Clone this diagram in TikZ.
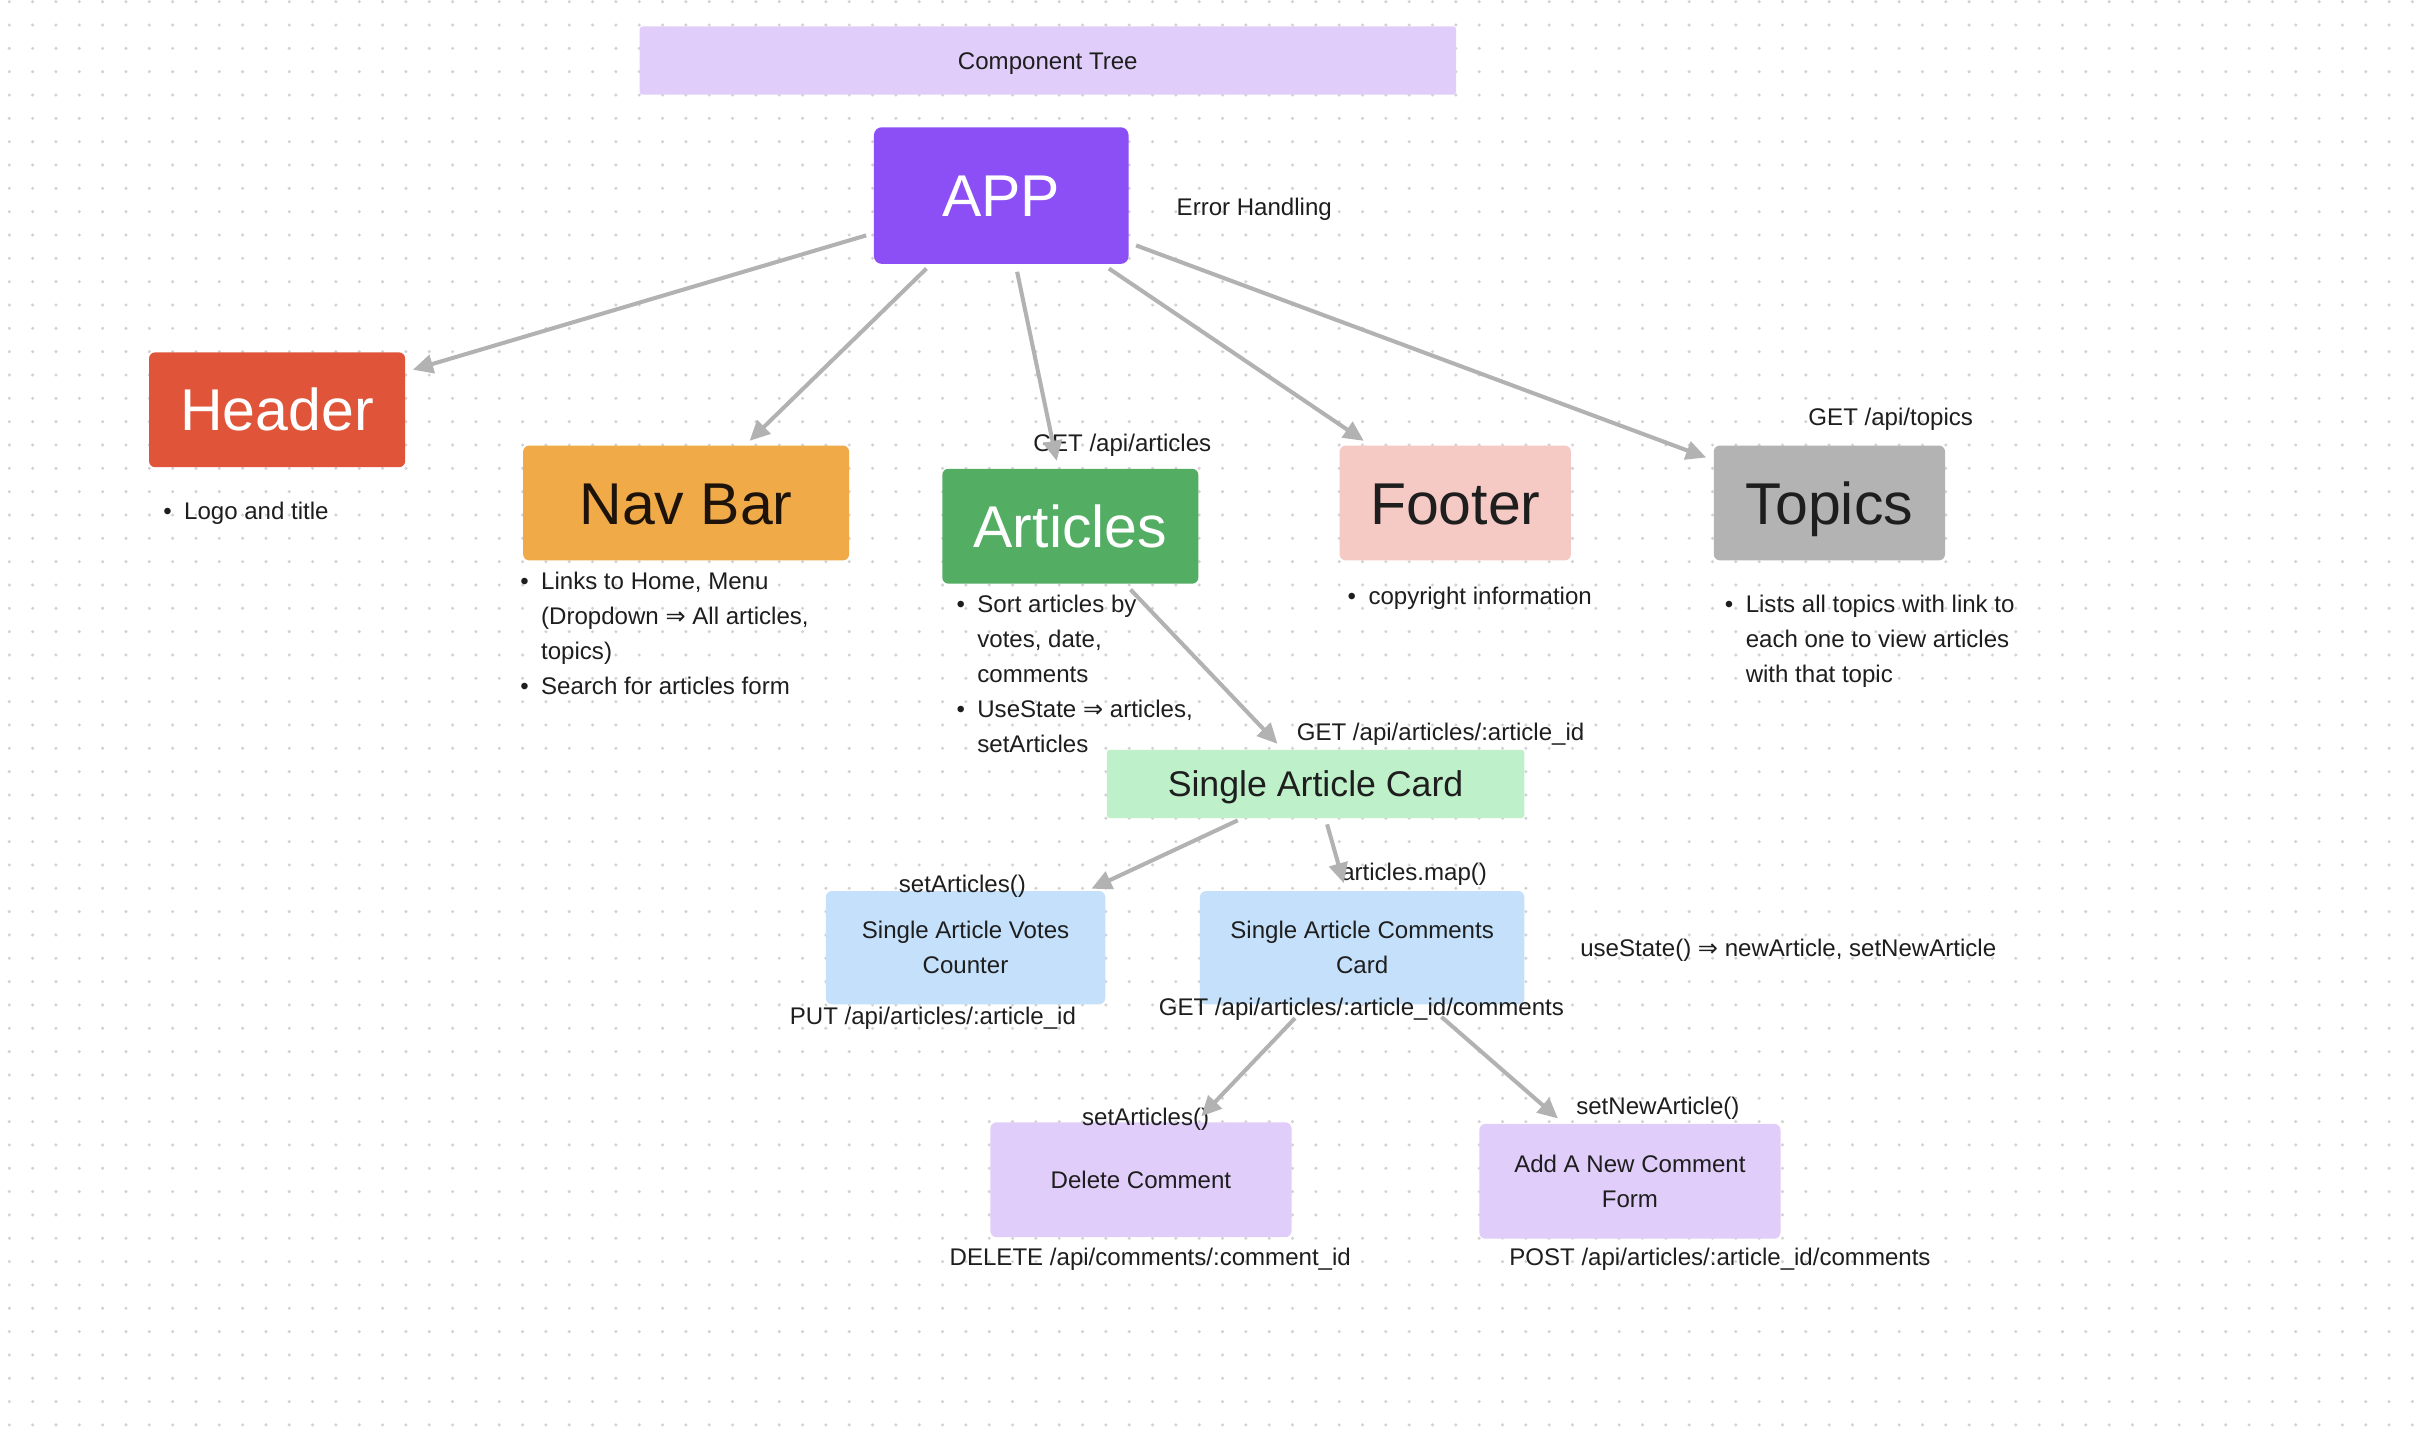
\documentclass[tikz,border=0pt]{standalone}
\usepackage{fontspec}
\setmainfont{Liberation Sans}
\newfontfamily\symfnt{DejaVu Sans}
\usetikzlibrary{arrows.meta}
\definecolor{dotc}{HTML}{D2D2D2}
\definecolor{lav}{HTML}{E0CDFA}
\definecolor{appc}{HTML}{8C4FF5}
\definecolor{hdrc}{HTML}{E0553A}
\definecolor{navc}{HTML}{F0AA48}
\definecolor{artc}{HTML}{53AD63}
\definecolor{ftrc}{HTML}{F5C9C4}
\definecolor{topc}{HTML}{B3B3B3}
\definecolor{sacc}{HTML}{BEF1C9}
\definecolor{bluc}{HTML}{C4E0FA}
\definecolor{arrc}{HTML}{B2B2B2}
\definecolor{txt}{HTML}{1E1E1E}
\newcommand{\dbl}{{\symfnt\char"21D2}}
\tikzset{
  box/.style={inner sep=0pt, rounded corners=4pt, align=center},
  bigbox/.style={box, font=\fontsize{38}{44}\selectfont, text height=27.2pt, text depth=0pt},
  smallbox/.style={box, text=txt, font=\fontsize{15.5}{22.5}\selectfont},
  lbl/.style={inner sep=0pt, text=txt, yshift=-2pt, font=\fontsize{15.5}{22.5}\selectfont},
  lst/.style={inner sep=0pt, text=txt, anchor=north west, align=left, yshift=-1pt, font=\fontsize{15.5}{22.5}\selectfont},
  conn/.style={draw=arrc, line width=2.6pt, -{Triangle[length=13pt,width=12pt]}, shorten <=5pt, shorten >=5pt}
}
\begin{document}
\begin{tikzpicture}[x=1pt,y=-1pt]
\useasboundingbox (0,0) rectangle (1568,920);
\fill[white] (0,0) rectangle (1568,920);
\foreach \i in {0,...,104}{
  \foreach \j in {0,...,61}{
    \fill[dotc] (6+15.03*\i, 1.1+15.03*\j) circle (1.1);
  }
}
% boxes
\node[box, fill=lav, rounded corners=2pt, minimum width=526pt, minimum height=44pt, text=txt, font=\fontsize{15.5}{22.5}\selectfont, text height=11.1pt, text depth=0pt] (ctree) at (675,39) {Component Tree};
\node[bigbox, fill=appc, text=white, minimum width=164pt, minimum height=88pt, rounded corners=5pt] (app) at (645,126) {APP};
\node[bigbox, fill=hdrc, text=white, minimum width=165pt, minimum height=74pt] (header) at (178.5,264) {Header};
\node[bigbox, fill=navc, text={black!85!brown}, minimum width=210pt, minimum height=74pt] (nav) at (442,324) {Nav Bar};
\node[bigbox, fill=artc, text=white, minimum width=165pt, minimum height=74pt] (articles) at (689.5,339) {Articles};
\node[bigbox, fill=ftrc, text=txt, minimum width=149pt, minimum height=74pt] (footer) at (937.5,324) {Footer};
\node[bigbox, fill=topc, text=txt, minimum width=149pt, minimum height=74pt] (topics) at (1178.5,324) {Topics};
\node[box, fill=sacc, text=txt, rounded corners=2pt, minimum width=269pt, minimum height=44pt, font=\fontsize{23}{28}\selectfont, text height=16.5pt, text depth=0pt] (sac) at (847.5,505) {Single Article Card};
\node[smallbox, fill=bluc, minimum width=180pt, minimum height=73pt] (votes) at (622,610.5) {Single Article Votes\\Counter};
\node[smallbox, fill=bluc, minimum width=209pt, minimum height=73pt] (comments) at (877.5,610.5) {Single Article Comments\\Card};
\node[smallbox, fill=lav, minimum width=194pt, minimum height=74pt, text height=11.1pt, text depth=0pt] (delete) at (735,760) {Delete Comment};
\node[smallbox, fill=lav, minimum width=194pt, minimum height=74pt] (addc) at (1050,761) {Add A New Comment\\Form};
% labels
\node[lbl] (errh) at (808,133) {Error Handling};
\node[lbl] (getart) at (723,285) {GET /api/articles};
\node[lbl] (gettop) at (1218,268) {GET /api/topics};
\node[lbl] (getone) at (928,471) {GET /api/articles/:article\_id};
\node[lbl] (setart1) at (620,569) {setArticles()};
\node[lbl] (artmap) at (911,561) {articles.map()};
\node[lbl] (putv) at (601,654) {PUT /api/articles/:article\_id};
\node[lbl] (getcom) at (877,648) {GET /api/articles/:article\_id/comments};
\node[lbl] (usest) at (1152,610) {useState() \dbl{} newArticle, setNewArticle};
\node[lbl] (setart2) at (738,719) {setArticles()};
\node[lbl] (setnew) at (1068,712) {setNewArticle()};
\node[lbl] (delapi) at (741,809) {DELETE /api/comments/:comment\_id};
\node[lbl] (postapi) at (1108,809) {POST /api/articles/:article\_id/comments};
% lists
\node[lst] (hlist) at (105,317.75) {\begin{tabular}{@{}l@{\hspace{8pt}}l@{}}\textbullet & Logo and title\end{tabular}};
\node[lst] (nlist) at (335,362.75) {\begin{tabular}{@{}l@{\hspace{8pt}}l@{}}\textbullet & Links to Home, Menu\\ & (Dropdown \dbl{} All articles,\\ & topics)\\ \textbullet & Search for articles form\end{tabular}};
\node[lst] (alist) at (616,377.75) {\begin{tabular}{@{}l@{\hspace{8pt}}l@{}}\textbullet & Sort articles by\\ & votes, date,\\ & comments\\ \textbullet & UseState \dbl{} articles,\\ & setArticles\end{tabular}};
\node[lst] (flist) at (868,372.75) {\begin{tabular}{@{}l@{\hspace{8pt}}l@{}}\textbullet & copyright information\end{tabular}};
\node[lst] (tlist) at (1111,377.75) {\begin{tabular}{@{}l@{\hspace{8pt}}l@{}}\textbullet & Lists all topics with link to\\ & each one to view articles\\ & with that topic\end{tabular}};
% connectors
\draw[conn] (app) -- (header);
\draw[conn, shorten <=4pt, shorten >=4pt] (app) -- (nav);
\draw[conn] (app) -- (articles);
\draw[conn] (app) -- (footer);
\draw[conn] (app) -- (topics);
\draw[conn] (articles) -- (sac);
\draw[conn, shorten <=3pt, shorten >=3pt] (sac) -- (votes);
\draw[conn, shorten <=4pt] (sac) -- (comments);
\draw[conn, shorten <=12pt] (comments) -- (delete);
\draw[conn, shorten <=12pt] (comments) -- (addc);
\end{tikzpicture}
\end{document}
